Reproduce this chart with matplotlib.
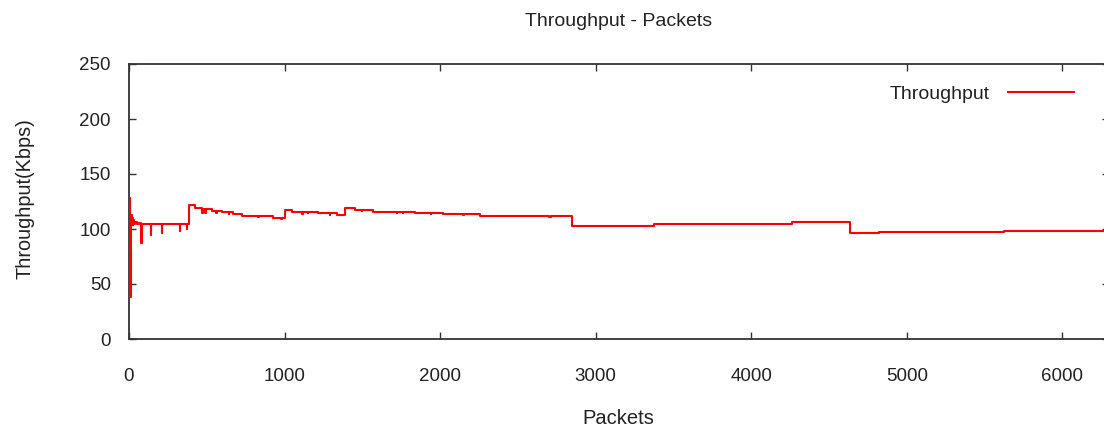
import matplotlib
matplotlib.use("Agg")
import matplotlib.pyplot as plt

# ---- data ----
packets = [0, 4, 7, 10, 12, 14, 17, 20, 23, 27, 32, 40, 50, 65, 79, 82, 110,
           139, 142, 180, 211, 214, 260, 327, 330, 373, 376, 387, 424, 467,
           472, 476, 490, 495, 532, 560, 563, 596, 640, 643, 671, 725, 830,
           833, 928, 980, 984, 1003, 1046, 1115, 1118, 1150, 1153, 1217,
           1290, 1294, 1335, 1389, 1453, 1495, 1498, 1571, 1720, 1723, 1760,
           1763, 1839, 1940, 1943, 2021, 2150, 2153, 2257, 2700, 2710, 2847,
           3376, 4262, 4632, 4823, 5627, 6300]
throughput = [110, 128, 38, 112, 104, 113, 106, 110, 104, 108, 105, 106,
              104.5, 105.5, 87, 105, 104.5, 94.5, 105, 104.5, 96, 105, 104.5,
              98, 105, 100, 105, 121.5, 119.4, 117.9, 114.5, 117.9, 114.5,
              117.9, 116, 114.5, 116, 115.1, 113.8, 115.1, 113.6, 112.1,
              110.8, 112.1, 110.3, 109.5, 110.3, 117.3, 115.1, 114, 115.1,
              114.2, 115.1, 114.2, 112.5, 114.2, 113, 119.1, 117, 116, 117,
              115.8, 115, 115.8, 115, 115.8, 114.6, 113.8, 114.6, 113.3,
              112.5, 113.3, 111.8, 110.8, 111.8, 103, 104.5, 106.1, 96.2,
              97.2, 98.3, 98.3]
x_ticks = [0, 1000, 2000, 3000, 4000, 5000, 6000]
y_ticks = [0, 50, 100, 150, 200, 250]

W, H = 1104, 430
fig = plt.figure(figsize=(W / 100, H / 100), dpi=100)
left, right, top, bottom = 129, 1109, 64, 339
ax = fig.add_axes([left / W, 1 - bottom / H, (right - left) / W, (bottom - top) / H])

ax.plot(packets, throughput, color="#ff0000", lw=1.5, drawstyle="steps-post",
        label="Throughput", zorder=3)

ax.set_xlim(0, 6300)
ax.set_ylim(0, 250)
ax.set_xticks(x_ticks)
ax.set_yticks(y_ticks)

base = ["Liberation Sans", "DejaVu Sans"]

for s in ax.spines.values():
    s.set_linewidth(1.3)
    s.set_color("#333333")
ax.tick_params(direction="in", length=5, width=1.0, color="#333333",
               top=True, right=True, labelsize=13.5, labelcolor="#222222")
ax.tick_params(axis="y", pad=13)
ax.tick_params(axis="x", pad=21)
for lab in ax.get_xticklabels() + ax.get_yticklabels():
    lab.set_family(base)

fig.text(619 / W, 1 - 21 / H, "Throughput - Packets", ha="center", va="center",
         fontsize=14, family=base, color="#222222")
fig.text(25 / W, 1 - 199 / H, "Throughput(Kbps)", ha="center", va="center",
         rotation=90, fontsize=14.3, family=base, color="#222222")
fig.text(618 / W, 1 - 418 / H, "Packets", ha="center", va="center",
         fontsize=14.5, family=base, color="#222222")

leg = ax.legend(loc="upper right", bbox_to_anchor=(0.982, 0.985), frameon=False,
                markerfirst=False, handlelength=3.4, handletextpad=0.9,
                prop={"family": base, "size": 14})
for t in leg.get_texts():
    t.set_color("#222222")

fig.savefig("out.png", dpi=100)
